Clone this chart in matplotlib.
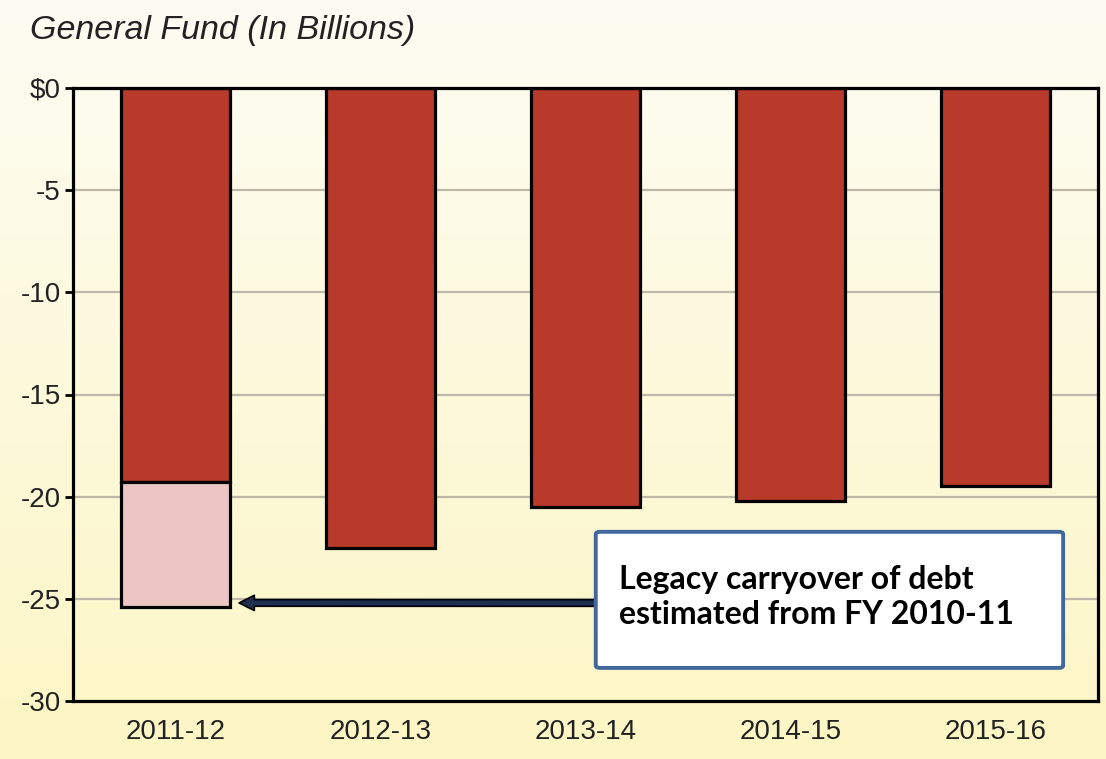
import numpy as np
import matplotlib
matplotlib.use("Agg")
import matplotlib.pyplot as plt
from matplotlib.patches import FancyBboxPatch

# General Fund shortfall by fiscal year, in billions
years = ["2011-12", "2012-13", "2013-14", "2014-15", "2015-16"]
deficit = [-19.3, -22.5, -20.5, -20.2, -19.5]
carryover = [-6.1, 0, 0, 0, 0]   # debt carried over from FY 2010-11
yticks = [0, -5, -10, -15, -20, -25, -30]
ytick_labels = ["$0", "-5", "-10", "-15", "-20", "-25", "-30"]

bar_red = "#b73a2b"
bar_pink = "#ecc6c4"
grid_gray = "#bdb8a8"
box_blue = "#41679b"

fig = plt.figure(figsize=(11.06, 7.59), dpi=100)

# cream-to-yellow background wash over the whole figure
bg = fig.add_axes([0, 0, 1, 1], zorder=0)
grad = np.linspace(0, 1, 256).reshape(-1, 1)
top = np.array([0.995, 0.99, 0.955])
bot = np.array([0.99, 0.965, 0.77])
img = top[None, None, :] * (1 - grad[:, :, None]) + bot[None, None, :] * grad[:, :, None]
img = np.repeat(img, 4, axis=1)
bg.imshow(img, aspect="auto", extent=[0, 1, 0, 1])
bg.axis("off")

ax = fig.add_axes([73 / 1106, 58 / 759, 1025 / 1106, 613 / 759], zorder=1)
ax.set_facecolor("none")

x = np.arange(len(years))
ax.bar(x, deficit, width=0.53, color=bar_red, edgecolor="black", linewidth=2.3, zorder=3)
for i, c in enumerate(carryover):
    if c != 0:
        ax.bar(x[i], c, bottom=deficit[i], width=0.53, color=bar_pink,
               edgecolor="black", linewidth=2.3, zorder=3)

ax.set_xlim(-0.5, len(years) - 0.5)
ax.set_ylim(-30, 0)
ax.set_yticks(yticks)
ax.set_yticklabels(ytick_labels)
ax.set_xticks(x)
ax.set_xticklabels(years)
for y in yticks[1:-1]:
    ax.axhline(y, color=grid_gray, linewidth=1.6, zorder=1)

for sp in ax.spines.values():
    sp.set_linewidth(2.3)
    sp.set_color("black")
    sp.set_zorder(4)

ax.tick_params(axis="y", length=6, width=2, direction="out", pad=3,
               labelsize=20, labelcolor="#222222")
ax.tick_params(axis="x", length=0, pad=13, labelsize=20, labelcolor="#222222")
for lbl in ax.get_xticklabels() + ax.get_yticklabels():
    lbl.set_family("Liberation Sans")

fig.text(30 / 1106, 1 - 31 / 759, "General Fund (In Billions)", fontsize=24.5,
         style="italic", family="Liberation Sans", color="#222222",
         ha="left", va="center")

# callout box and arrow to the carryover segment
box = FancyBboxPatch((0.510, 0.054), 0.456, 0.222, transform=ax.transAxes,
                     boxstyle="round,pad=0,rounding_size=0.004",
                     facecolor="white", edgecolor=box_blue, linewidth=2.8, zorder=6)
ax.add_patch(box)
ax.text(0.533, (701 - 597) / 613, "Legacy carryover of debt\nestimated from FY 2010-11",
        transform=ax.transAxes, fontsize=23, fontweight="bold", family="Lato",
        color="black", ha="left", va="center", linespacing=1.27, zorder=7)

ax.annotate("", xy=(0 + 0.265 + 0.045, deficit[0] + carryover[0] + 0.2),
            xytext=(0.510, (701 - 603) / 613), textcoords=ax.transAxes,
            arrowprops=dict(arrowstyle="simple,head_length=0.55,head_width=0.55,tail_width=0.24",
                            facecolor="#1f2f4f", edgecolor="black", linewidth=1.2,
                            shrinkA=0, shrinkB=0, mutation_scale=20),
            zorder=5)

fig.savefig("out.png", dpi=100)
